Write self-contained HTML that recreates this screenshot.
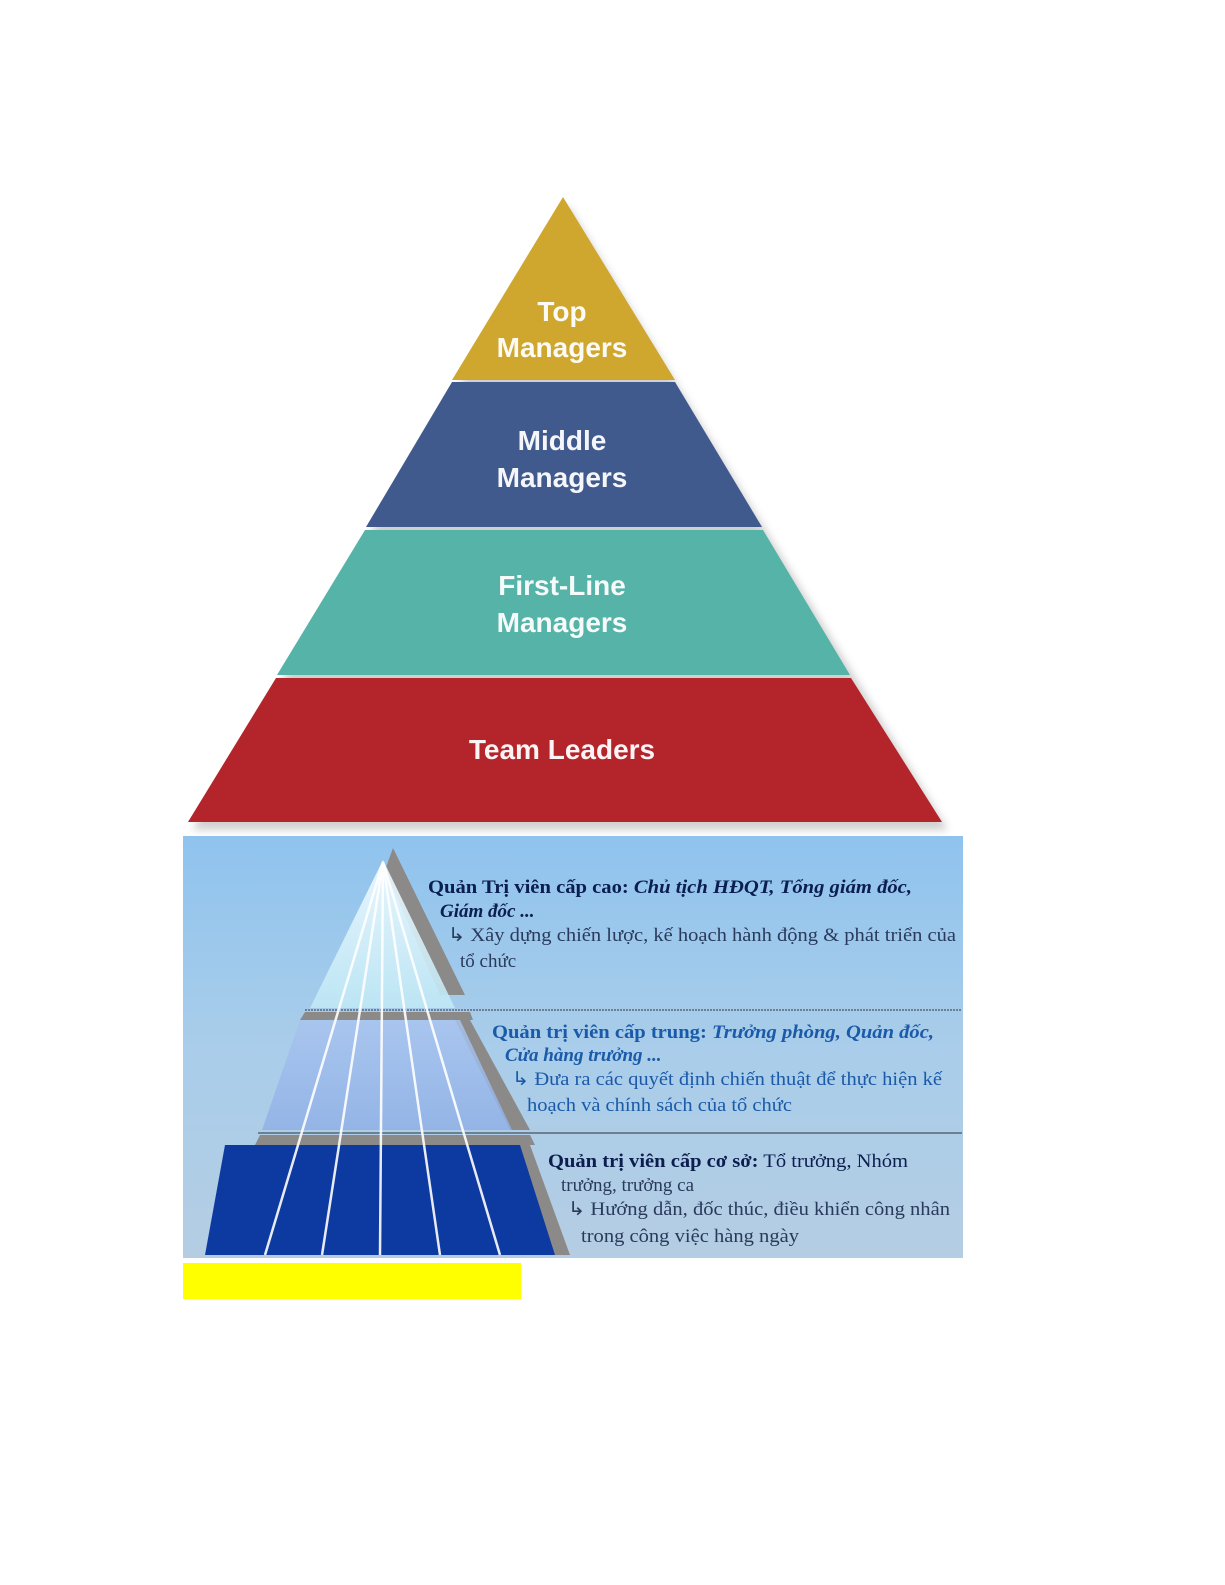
<!DOCTYPE html>
<html><head><meta charset="utf-8"><style>
body{margin:0;width:1225px;height:1585px;background:#fff;position:relative;overflow:hidden}
svg{position:absolute;left:0;top:0}
</style></head><body>
<svg width="1225" height="1585" viewBox="0 0 1225 1585" font-family="Liberation Sans, sans-serif">
<defs>
<filter id="sh" x="-10%" y="-10%" width="120%" height="120%"><feGaussianBlur stdDeviation="4"/></filter>
<linearGradient id="bg" x1="0" y1="0" x2="0" y2="1">
<stop offset="0" stop-color="#8fc3ee"/><stop offset="0.5" stop-color="#a9cdea"/><stop offset="1" stop-color="#b4cde3"/></linearGradient>
<linearGradient id="tp" x1="0" y1="0" x2="0" y2="1"><stop offset="0" stop-color="#f2fbff"/><stop offset="1" stop-color="#bfe8f5"/></linearGradient>
<linearGradient id="md" x1="0" y1="0" x2="0" y2="1"><stop offset="0" stop-color="#a9c4ef"/><stop offset="1" stop-color="#8fb0e6"/></linearGradient>
</defs>
<polygon points="568,205 948,830 192,830" fill="#999" opacity="0.45" filter="url(#sh)"/>
<polygon points="563,197 675,380 452,380" fill="#cfa72f"/>
<polygon points="452,382 675,382 762,527 366,527" fill="#415a8e"/>
<polygon points="365,530 763,530 850,675 277,675" fill="#56b3a8"/>
<polygon points="276,678 851,678 942,822 188,822" fill="#b3242b"/>
<g fill="#fff" font-size="28" font-weight="bold" text-anchor="middle" opacity="0.95">
<text x="562" y="321">Top</text><text x="562" y="357">Managers</text>
<text x="562" y="450">Middle</text><text x="562" y="487">Managers</text>
<text x="562" y="595">First-Line</text><text x="562" y="632">Managers</text>
<text x="562" y="759">Team Leaders</text>
</g>
<rect x="183" y="836" width="780" height="422" fill="url(#bg)"/>
<polygon points="393,848 465,995 440,995 385,870" fill="#8c8a88"/>
<polygon points="383,860 455,1008 310,1008" fill="url(#tp)" opacity="0.9"/>
<line x1="305" y1="1010" x2="962" y2="1010" stroke="#6f7f90" stroke-width="2" stroke-dasharray="2,1"/>
<polygon points="305,1012 470,1012 473,1020 300,1020" fill="#8c8a88"/>
<polygon points="470,1020 530,1130 510,1130 455,1020" fill="#8c8a88"/>
<polygon points="300,1020 460,1020 512,1130 262,1130" fill="url(#md)" opacity="0.85"/>
<line x1="258" y1="1133" x2="962" y2="1133" stroke="#6f7f90" stroke-width="2"/>
<polygon points="260,1135 530,1135 535,1145 255,1145" fill="#8c8a88"/>
<polygon points="530,1145 570,1255 552,1255 515,1145" fill="#8c8a88"/>
<polygon points="225,1145 520,1145 555,1255 205,1255" fill="#0d3aa0"/>
<g stroke="#fff" stroke-width="2.5" opacity="0.9">
<line x1="383" y1="862" x2="265" y2="1255"/><line x1="383" y1="862" x2="322" y2="1255"/>
<line x1="383" y1="862" x2="380" y2="1255"/><line x1="383" y1="862" x2="440" y2="1255"/>
<line x1="383" y1="862" x2="500" y2="1255"/>
</g>
<g font-family="Liberation Serif, serif" font-size="19">
<text x="428" y="893" fill="#0b1e4e" font-weight="bold" textLength="484" lengthAdjust="spacingAndGlyphs">Quản Trị viên cấp cao: <tspan font-style="italic">Chủ tịch HĐQT, Tổng giám đốc,</tspan></text>
<text x="440" y="917" fill="#0b1e4e" font-weight="bold" font-style="italic">Giám đốc ...</text>
<text x="448" y="941" fill="#2a3a5a" textLength="508" lengthAdjust="spacingAndGlyphs">↳ Xây dựng chiến lược, kế hoạch hành động &amp; phát triển của</text>
<text x="460" y="967" fill="#2a3a5a">tổ chức</text>
<text x="492" y="1038" fill="#1a5aa8" font-weight="bold" textLength="442" lengthAdjust="spacingAndGlyphs">Quản trị viên cấp trung: <tspan font-style="italic">Trưởng phòng, Quản đốc,</tspan></text>
<text x="505" y="1061" fill="#1a5aa8" font-weight="bold" font-style="italic">Cửa hàng trưởng ...</text>
<text x="512" y="1085" fill="#1a5aa8" textLength="430" lengthAdjust="spacingAndGlyphs">↳ Đưa ra các quyết định chiến thuật để thực hiện kế</text>
<text x="527" y="1111" fill="#1a5aa8" textLength="265" lengthAdjust="spacingAndGlyphs">hoạch và chính sách của tổ chức</text>
<text x="548" y="1167" fill="#0b1e4e" textLength="360" lengthAdjust="spacingAndGlyphs"><tspan font-weight="bold">Quản trị viên cấp cơ sở:</tspan> Tổ trưởng, Nhóm</text>
<text x="561" y="1191" fill="#2a3a5a">trưởng, trưởng ca</text>
<text x="568" y="1215" fill="#2a3a5a" textLength="382" lengthAdjust="spacingAndGlyphs">↳ Hướng dẫn, đốc thúc, điều khiển công nhân</text>
<text x="581" y="1242" fill="#2a3a5a" textLength="218" lengthAdjust="spacingAndGlyphs">trong công việc hàng ngày</text>
</g>
<rect x="183" y="1263" width="338" height="36" fill="#ffff00"/>
</svg>
</body></html>
